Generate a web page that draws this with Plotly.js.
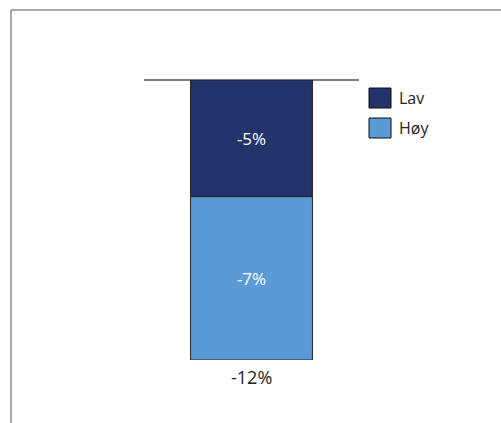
<!DOCTYPE html>
<html>
<head>
<meta charset="utf-8">
<script src="https://cdn.plot.ly/plotly-3.0.1.min.js"></script>
<style>html,body{margin:0;padding:0;background:#fff;}</style>
</head>
<body>
<div id="chart" style="width:501px;height:423px;"></div>
<script>
const categories = [""];
const seriesNames = ["Lav", "Høy"];
const lavValues = [-5];
const hoyValues = [-7];
const totalLabels = ["-12%"];

const colors = ["#22346B", "#5B9BD5"];
const fontFam = "'Open Sans', 'Liberation Sans', sans-serif";

const totals = categories.map((c, i) => lavValues[i] + hoyValues[i]);

const traces = [lavValues, hoyValues].map((vals, k) => ({
  type: "bar",
  name: seriesNames[k],
  x: categories,
  y: vals,
  width: 0.567,
  marker: {color: colors[k], line: {color: "#222222", width: 1}},
  text: vals.map(v => v + "%"),
  textposition: "inside",
  insidetextanchor: "middle",
  textfont: {color: "#ffffff", size: 17, family: fontFam},
  hoverinfo: "none",
  showlegend: false
}));

// custom legend (larger boxes as in reference), placed in paper coordinates
const px = v => (v - 144) / 215;
const py = v => 1 - (v - 80) / 280;
const legendShapes = [];
const legendAnnots = [];
seriesNames.forEach((n, k) => {
  const top = 88 + k * 30;
  legendShapes.push({
    type: "rect", xref: "paper", yref: "paper",
    x0: px(369), x1: px(391), y0: py(top), y1: py(top + 20),
    fillcolor: colors[k], line: {color: "#111111", width: 1}
  });
  legendAnnots.push({
    xref: "paper", yref: "paper", x: px(397), y: py(top + 10),
    xanchor: "left", yanchor: "middle", showarrow: false, text: n,
    font: {size: 16, family: fontFam, color: "#222222"}
  });
});

const layout = {
  width: 501,
  height: 423,
  margin: {l: 144, r: 142, t: 80, b: 63},
  paper_bgcolor: "#ffffff",
  plot_bgcolor: "#ffffff",
  barmode: "relative",
  showlegend: false,
  xaxis: {
    range: [-0.5, 0.5],
    showticklabels: false, showgrid: false, zeroline: false, showline: false, ticks: ""
  },
  yaxis: {
    range: [-12, 0],
    showticklabels: false, showgrid: false, ticks: "",
    zeroline: true, zerolinecolor: "#7f7f7f", zerolinewidth: 1.5, showline: false
  },
  annotations: categories.map((c, i) => ({
    x: c, y: totals[i], xref: "x", yref: "y",
    text: totalLabels[i], showarrow: false,
    yanchor: "top", yshift: -3,
    font: {size: 18, family: fontFam, color: "#222222"}
  })).concat(legendAnnots),
  shapes: [
    {type: "line", xref: "paper", yref: "paper", x0: px(11), x1: px(501), y0: py(10), y1: py(10), line: {color: "#555555", width: 1}},
    {type: "line", xref: "paper", yref: "paper", x0: px(11), x1: px(11), y0: py(10), y1: py(423), line: {color: "#555555", width: 1}}
  ].concat(legendShapes)
};

Plotly.newPlot("chart", traces, layout, {displayModeBar: false, staticPlot: true});
</script>
</body>
</html>
